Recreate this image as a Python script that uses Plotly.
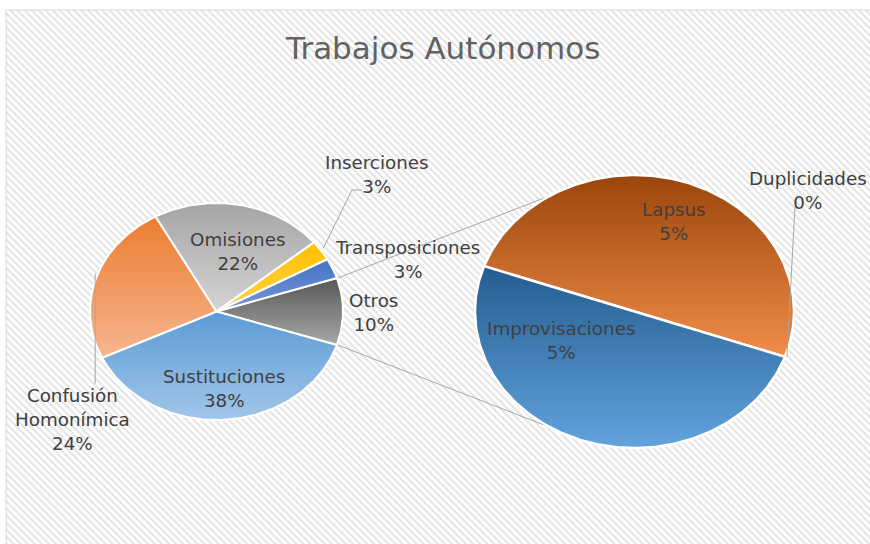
import math
import plotly.graph_objects as go

W, H = 870, 544

# ---------------- data ----------------
title_text = "Trabajos Autónomos"
main_categories = ["Sustituciones", "Confusión Homonímica", "Omisiones", "Inserciones", "Transposiciones"]
main_values = [38, 24, 22, 3, 3]
other_label = "Otros"
sec_categories = ["Lapsus", "Duplicidades", "Improvisaciones"]
sec_values = [5, 0, 5]

# ---------------- styling / layout ----------------
MAIN = dict(cx=216.5, cy=311.5, rx=126.5, ry=108.5)
SEC = dict(cx=634.5, cy=311.5, rx=159.5, ry=136.5)
SEC_START = 160.6  # degrees, secondary pie first-slice angle (clockwise drawing)

colors = {
    "Sustituciones": ("#5b9bd5", "#a2c6e9"),
    "Confusión Homonímica": ("#ed7d31", "#f6b690"),
    "Omisiones": ("#a5a5a5", "#d4d4d4"),
    "Inserciones": ("#ffc000", "#ffd34d"),
    "Transposiciones": ("#4472c4", "#7897d6"),
    "Otros": ("#575757", "#a8a8a8"),
    "Lapsus": ("#9b450c", "#f18d4a"),
    "Duplicidades": ("#a5a5a5", "#d4d4d4"),
    "Improvisaciones": ("#245c8f", "#62a3de"),
}

label_pos = {  # label block centres (pixels, top-left origin)
    "Sustituciones": (224, 388),
    "Confusión Homonímica": (72, 419.5),
    "Omisiones": (237, 251),
    "Inserciones": (377, 174),
    "Transposiciones": (407, 259),
    "Otros": (373, 312),
    "Lapsus": (674, 221.5),
    "Improvisaciones": (561, 340.5),
    "Duplicidades": (808, 190.5),
}
label_text_override = {"Confusión Homonímica": "Confusión<br>Homonímica"}

LABEL_FONT = dict(family="DejaVu Sans", size=18.3, color="#404040")
LEADER = dict(color="#a6a6a6", width=1)


def fy(y):
    return H - y


def pt(geo, ang):
    a = math.radians(ang)
    return geo["cx"] + geo["rx"] * math.cos(a), geo["cy"] - geo["ry"] * math.sin(a)


def slice_xy(geo, a0, a1):
    n = max(2, int(abs(a0 - a1) / 1.0) + 1)
    xs, ys = [geo["cx"]], [fy(geo["cy"])]
    for i in range(n + 1):
        ang = a0 + (a1 - a0) * i / n
        x, y = pt(geo, ang)
        xs.append(x)
        ys.append(fy(y))
    xs.append(geo["cx"])
    ys.append(fy(geo["cy"]))
    return xs, ys


fig = go.Figure()

# hatched chart area background
fig.add_trace(go.Scatter(
    x=[6, 872, 872, 6, 6], y=[fy(10), fy(10), -2, -2, fy(10)],
    mode="lines", fill="toself", fillcolor="white",
    fillpattern=dict(shape="\\", fgcolor="#c9c9c9", bgcolor="white", size=5, solidity=0.42),
    line=dict(color="#d9d9d9", width=1), hoverinfo="skip", showlegend=False))

total = sum(main_values) + sum(sec_values)
other_value = sum(sec_values)

# ---- main pie ----
main_order = [other_label] + main_categories
main_vals = [other_value] + main_values
main_sum = sum(main_vals)
start = other_value / main_sum * 360 / 2
angles = {}
a = start
for name, v in zip(main_order, main_vals):
    span = v / main_sum * 360
    angles[name] = (a, a - span)
    a -= span

for name in main_order:
    a0, a1 = angles[name]
    xs, ys = slice_xy(MAIN, a0, a1)
    top, bot = colors[name]
    fig.add_trace(go.Scatter(
        x=xs, y=ys, mode="lines", fill="toself",
        fillgradient=dict(type="vertical", colorscale=[[0, bot], [1, top]]),
        line=dict(color="white", width=2), hoverinfo="skip", showlegend=False))

# ---- secondary pie ----
sec_sum = sum(sec_values)
sec_angles = {}
a = SEC_START
for name, v in zip(sec_categories, sec_values):
    span = v / sec_sum * 360
    sec_angles[name] = (a, a - span)
    a -= span

for name in sec_categories:
    a0, a1 = sec_angles[name]
    if a0 == a1:
        continue
    xs, ys = slice_xy(SEC, a0, a1)
    top, bot = colors[name]
    fig.add_trace(go.Scatter(
        x=xs, y=ys, mode="lines", fill="toself",
        fillgradient=dict(type="vertical", colorscale=[[0, bot], [1, top]]),
        line=dict(color="white", width=2.5), hoverinfo="skip", showlegend=False))

# ---- connector lines between pies ----
oa0, oa1 = angles[other_label]
for ma, sa in ((oa0, 124), (oa1, -124)):
    x0, y0 = pt(MAIN, ma)
    x1, y1 = pt(SEC, sa)
    fig.add_trace(go.Scatter(x=[x0 + 1, x1 - 2], y=[fy(y0), fy(y1)], mode="lines",
                             line=LEADER, hoverinfo="skip", showlegend=False))

# ---- leader lines ----
def mid(ang):
    return (ang[0] + ang[1]) / 2

# Inserciones
x0, y0 = pt(MAIN, mid(angles["Inserciones"]))
lx, ly = label_pos["Inserciones"]
fig.add_trace(go.Scatter(x=[x0 + 2, lx - 25, lx - 15], y=[fy(y0 - 2), fy(ly + 16), fy(ly + 16)],
                         mode="lines", line=LEADER, hoverinfo="skip", showlegend=False))
# Confusión Homonímica
x0, y0 = pt(MAIN, mid(angles["Confusión Homonímica"]))
lx, ly = label_pos["Confusión Homonímica"]
fig.add_trace(go.Scatter(x=[x0 - 1, x0 - 1], y=[fy(y0 - 4), fy(ly - 36)],
                         mode="lines", line=LEADER, hoverinfo="skip", showlegend=False))
# Duplicidades
x0, y0 = pt(SEC, sec_angles["Duplicidades"][0])
lx, ly = label_pos["Duplicidades"]
fig.add_trace(go.Scatter(x=[x0 + 2, lx - 13], y=[fy(y0), fy(ly + 16)],
                         mode="lines", line=LEADER, hoverinfo="skip", showlegend=False))

# ---- labels ----
annotations = []
all_names = main_categories + [other_label] + sec_categories
all_vals = main_values + [other_value] + sec_values
for name, v in zip(all_names, all_vals):
    x, y = label_pos[name]
    txt = label_text_override.get(name, name)
    annotations.append(dict(
        x=x, y=fy(y), xref="x", yref="y", showarrow=False,
        text=f"{txt}<br>{round(v / total * 100)}%",
        font=LABEL_FONT, xanchor="center", yanchor="middle", align="center"))

annotations.append(dict(
    x=442, y=fy(48), xref="x", yref="y", showarrow=False, text=title_text,
    font=dict(family="DejaVu Sans", size=31, color="#626262"),
    xanchor="center", yanchor="middle"))

fig.update_layout(
    width=W, height=H,
    margin=dict(l=0, r=0, t=0, b=0),
    paper_bgcolor="white", plot_bgcolor="white",
    xaxis=dict(range=[0, W], visible=False, fixedrange=True),
    yaxis=dict(range=[0, H], visible=False, fixedrange=True),
    annotations=annotations,
    showlegend=False,
)

fig.write_html(
    "out.html",
    config={"displayModeBar": False},
    post_script="document.body.style.margin='0';document.body.style.overflow='hidden';",
)
